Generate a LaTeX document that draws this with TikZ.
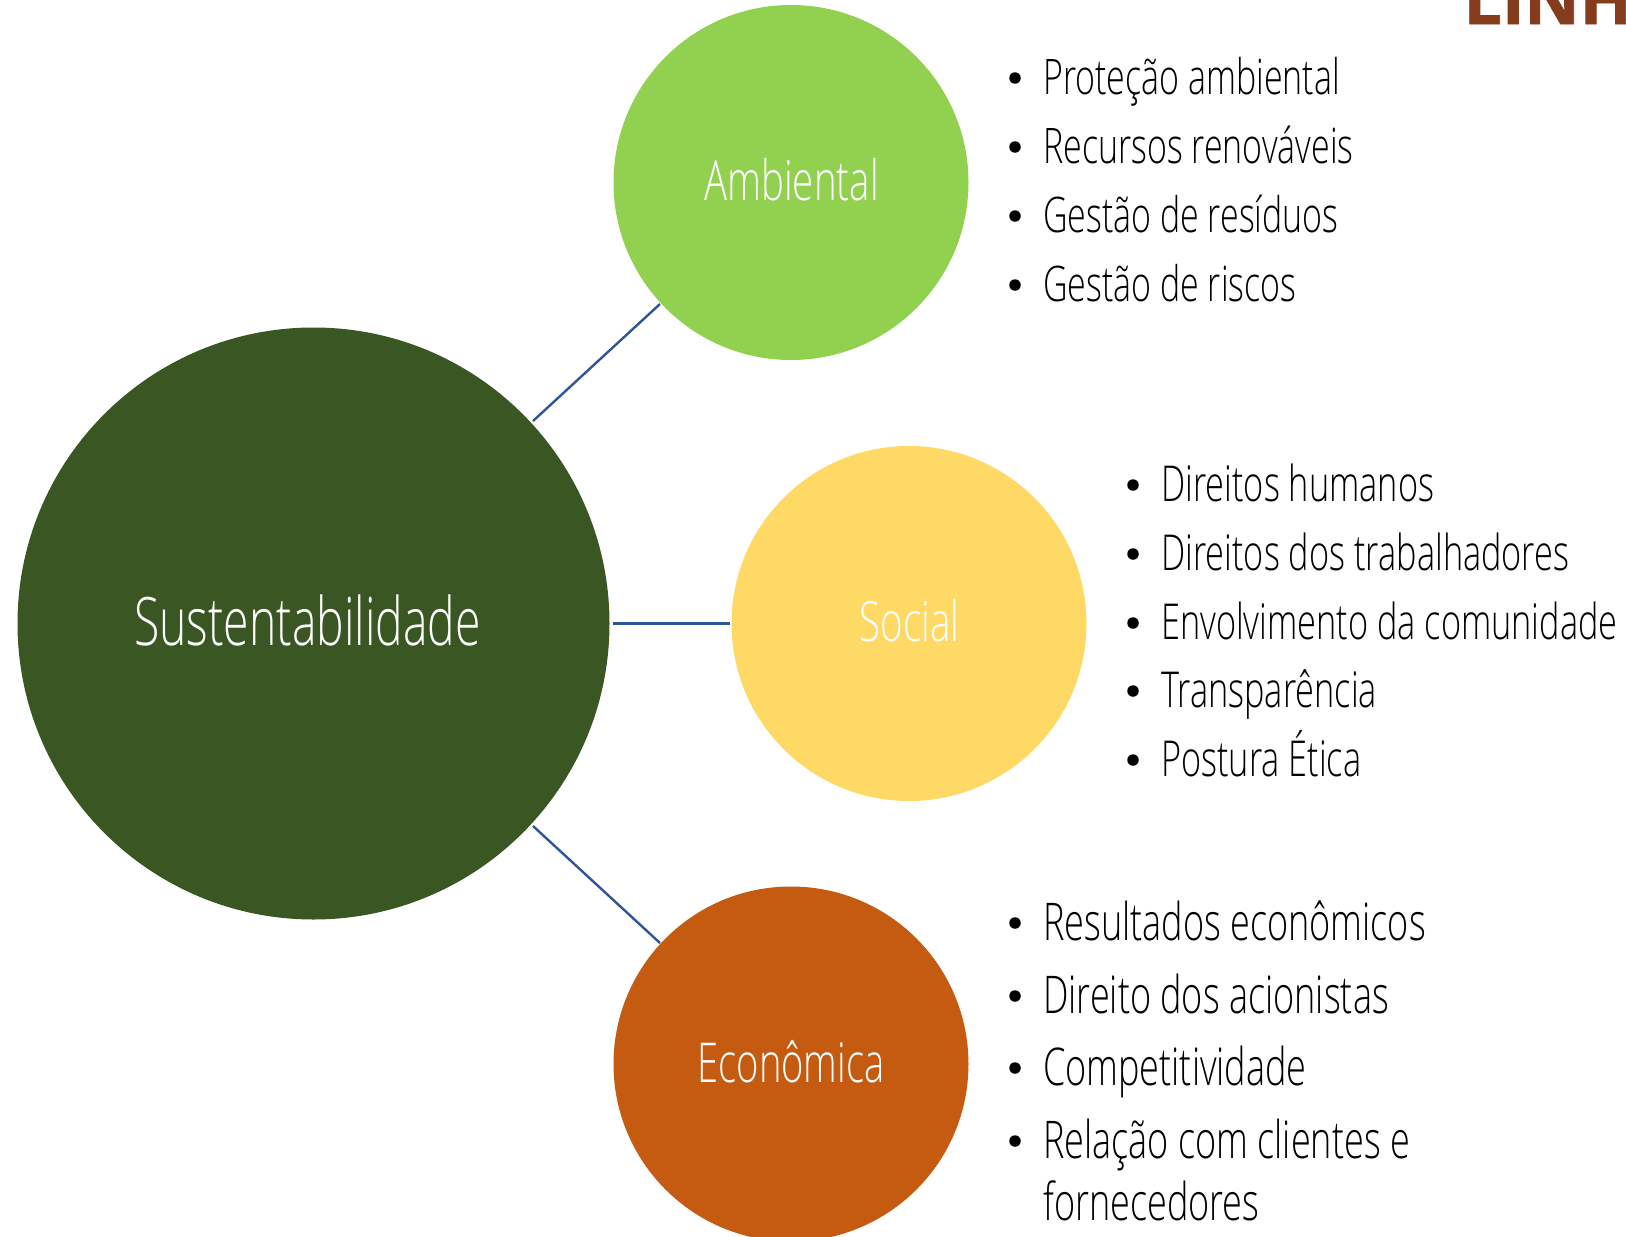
\documentclass[tikz,border=0pt]{standalone}
\usepackage{fontspec}
\setmainfont[FakeStretch=0.693]{Open Sans Light}
\newfontfamily\logofont[FakeBold=1.2]{Open Sans}
\definecolor{cgreen}{HTML}{3A5623}
\definecolor{clime}{HTML}{92D050}
\definecolor{cyellow}{HTML}{FFD966}
\definecolor{corange}{HTML}{C55A11}
\definecolor{cline}{HTML}{2F5597}
\definecolor{clogo}{HTML}{843C1C}
\tikzset{
  hub/.style={circle,fill=#1,inner sep=0pt,text=white},
  itemtext/.style={anchor=base west,inner sep=0pt,text=black,font=\fontsize{49}{56}\selectfont},
  itemtextb/.style={anchor=base west,inner sep=0pt,text=black,font=\fontsize{49.5}{56}\selectfont},
  itemtextc/.style={anchor=base west,inner sep=0pt,text=black,font=\fontsize{52}{58}\selectfont},
  dotmark/.style={circle,fill=black,inner sep=0pt,minimum size=11.5pt},
  link/.style={draw=cline,line width=2.4pt}
}
\begin{document}
\begin{tikzpicture}[x=1pt,y=-1pt]
\useasboundingbox (0,0) rectangle (1626,1237);
\clip (0,0) rectangle (1626,1237);
\node[hub=cgreen,minimum size=592pt] (s) at (313.5,623.5) {};
\node[text=white,font=\fontsize{66.8}{72}\selectfont] (st) at (307.5,620) {Sustentabilidade};
\node[hub=clime,minimum size=355pt] (a) at (791,182.5) {};
\node[text=white,font=\fontsize{55.5}{60}\selectfont] (at) at (791.5,179.5) {Ambiental};
\node[hub=cyellow,minimum size=355pt] (b) at (909,623.5) {};
\node[text=white,font=\fontsize{55.5}{60}\selectfont] (bt) at (909.5,621) {Social};
\node[hub=corange,minimum size=355pt] (c) at (791,1064) {};
\node[text=white,font=\fontsize{55}{60}\selectfont] (ct) at (791,1062) {Econômica};
\coordinate (s1) at (533,421); \coordinate (a1) at (660,304);
\coordinate (s2) at (613,623.5); \coordinate (b1) at (730,623.5);
\coordinate (s3) at (533,826); \coordinate (c1) at (660,943);
\draw[link] (s1) -- (a1);
\draw[link] (s2) -- (b1);
\draw[link] (s3) -- (c1);
\foreach \n/\y/\t in {a1t/78/{Proteção ambiental},a2t/147/{Recursos renováveis},a3t/216/{Gestão de resíduos},a4t/285/{Gestão de riscos}}{
  \node[dotmark] (\n d) at (1015,\y) {};
  \node[itemtext] (\n) at (1043,\y+16.5) {\t};
}
\foreach \n/\y/\t in {b1t/485/{Direitos humanos},b2t/554/{Direitos dos trabalhadores},b3t/623/{Envolvimento da comunidade},b4t/691/{Transparência},b5t/760/{Postura Ética}}{
  \node[dotmark] (\n d) at (1133,\y) {};
  \node[itemtextb] (\n) at (1161,\y+16.5) {\t};
}
\foreach \n/\y/\t in {c1t/923/{Resultados econômicos},c2t/996/{Direito dos acionistas},c3t/1068/{Competitividade},c4t/1141/{Relação com clientes e}}{
  \node[dotmark] (\n d) at (1015,\y) {};
  \node[itemtextc] (\n) at (1043,\y+17) {\t};
}
\node[itemtextc] (c5t) at (1043,1220) {fornecedores};
\node[anchor=base east,inner sep=0pt,text=clogo,font=\logofont\bfseries\fontsize{68}{68}\selectfont] (logo) at (1632,24) {LINH};
\end{tikzpicture}
\end{document}
